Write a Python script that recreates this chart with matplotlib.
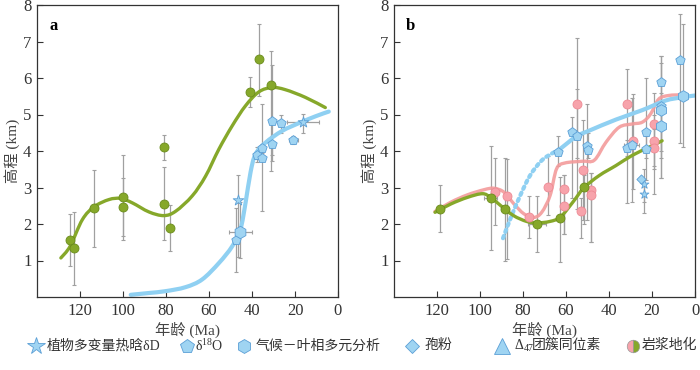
import numpy as np
import matplotlib.pyplot as plt
from matplotlib.lines import Line2D
from matplotlib.path import Path
from matplotlib.patches import PathPatch

plt.rcParams['font.family'] = ['Liberation Serif', 'Noto Sans CJK SC']
plt.rcParams['mathtext.fontset'] = 'custom'
plt.rcParams['mathtext.rm'] = 'Liberation Serif'
plt.rcParams['mathtext.it'] = 'Liberation Serif:italic'
plt.rcParams['axes.unicode_minus'] = False

GREEN = '#86a82a'
GREEN_EDGE = '#6a8c1c'
BLUE = '#9fd4f2'
BLUE_EDGE = '#5b9fd6'
BLUE_LINE = '#8fd0f2'
PINK = '#f7a3ab'
PINK_EDGE = '#ee8a94'
PINK_LINE = '#f39b9b'
ERR = '#a0a0a0'

# ---------------- panel a ----------------
a_mag_age = [124.6, 122.8, 113.5, 100.0, 100.0, 81.1, 81.1, 78.3, 40.7, 36.7, 31.1]
a_mag_elev = [1.56, 1.34, 2.44, 2.73, 2.47, 4.11, 2.56, 1.90, 5.62, 6.52, 5.81]
a_mag_hi = [2.27, 2.33, 3.49, 3.90, 3.25, 4.45, 3.56, 2.53, 6.04, 7.47, 6.75]
a_mag_lo = [0.85, 0.33, 1.37, 1.55, 1.67, 3.75, 1.56, 1.27, 5.20, 5.50, 3.45]
a_mag_xerr = [1.5, 1.5, 2.0, 1.5, 1.5, 0.0, 1.0, 0.0, 0.0, 0.0, 0.0]

a_o18_age = [47.5, 37.9, 35.4, 35.4, 30.5, 30.5, 26.5, 20.7]
a_o18_elev = [1.57, 3.89, 3.82, 4.07, 4.82, 4.18, 4.78, 4.30]
a_o18_hi = [2.45, 4.10, 5.30, 4.20, 6.35, 4.40, 5.00, 4.40]
a_o18_lo = [0.68, 3.70, 2.35, 3.95, 3.72, 3.90, 4.50, 4.20]
a_o18_xerr = [0.5, 1.5, 0.5, 0.5, 0.5, 0.5, 0.5, 2.3]

a_clamp_age = [45.4]
a_clamp_elev = [1.78]
a_clamp_hi = [2.60]
a_clamp_lo = [1.08]
a_clamp_xerr = [5.2]

a_star_age = [46.7, 16.3]
a_star_elev = [2.66, 4.79]
a_star_hi = [3.35, 5.02]
a_star_lo = [1.10, 4.50]
a_star_xerr = [0.5, 7.5]

a_green_x = [128.9, 124.6, 118.9, 113.5, 106.5, 101.1, 95.7, 87.9, 81.0, 75.5, 67.8,
             61.6, 55.4, 49.2, 43.0, 36.8, 30.7, 24.5, 15.2, 5.9]
a_green_y = [1.07, 1.39, 2.12, 2.47, 2.67, 2.70, 2.58, 2.33, 2.23, 2.35, 2.77,
             3.31, 4.05, 4.69, 5.24, 5.62, 5.74, 5.68, 5.47, 5.19]

a_blue_x = [96.4, 87.9, 80.2, 70.9, 63.2, 55.4, 49.2, 45.4, 43.0, 40.7, 38.4,
            33.7, 26.0, 18.3, 10.5, 4.3]
a_blue_y = [0.06, 0.11, 0.16, 0.27, 0.48, 0.93, 1.39, 1.85, 2.58, 3.41, 3.91,
            4.23, 4.55, 4.76, 4.95, 5.08]

# ---------------- panel b ----------------
b_mag_age = [118.6, 95.1, 88.4, 73.5, 62.6, 51.7]
b_mag_elev = [2.41, 2.71, 2.41, 2.00, 2.17, 3.01]
b_mag_hi = [3.06, 4.13, 3.80, 2.77, 3.30, 3.35]
b_mag_lo = [1.78, 1.28, 1.00, 1.24, 0.97, 2.00]
b_mag_xerr = [0.0, 3.0, 2.0, 4.0, 0.0, 0.0]

b_pink_age = [93.1, 87.4, 77.2, 68.4, 61.1, 61.1, 54.8, 52.9, 52.2, 48.2, 48.2,
              31.8, 28.7, 19.2, 19.2, 19.2]
b_pink_elev = [2.89, 2.76, 2.19, 3.02, 2.97, 2.49, 5.30, 2.36, 3.49, 2.94, 2.79,
               5.28, 4.27, 4.73, 4.27, 4.07]
b_pink_hi = [3.80, 3.77, 2.77, 3.85, 3.35, 3.35, 7.10, 2.70, 4.85, 3.40, 3.40,
             6.25, 5.55, 5.60, 5.00, 4.60]
b_pink_lo = [1.97, 1.05, 1.62, 2.25, 1.73, 1.73, 2.40, 1.63, 2.10, 1.50, 1.50,
             2.57, 2.97, 2.82, 3.50, 3.60]

b_o18_age = [63.7, 57.1, 54.8, 50.2, 49.6, 31.5, 29.5, 22.7, 22.7, 15.7, 15.7, 7.2]
b_o18_elev = [3.96, 4.51, 4.42, 4.13, 4.03, 4.08, 4.17, 4.52, 4.06, 5.90, 5.24, 6.49]
b_o18_hi = [4.40, 4.92, 5.70, 5.30, 4.50, 4.30, 5.45, 6.00, 4.40, 6.60, 6.40, 7.75]
b_o18_lo = [3.60, 2.70, 3.80, 2.10, 3.80, 3.85, 2.60, 3.20, 3.80, 3.25, 3.80, 4.22]
b_o18_xerr = [1.0, 1.5, 1.0, 1.0, 1.0, 0.5, 3.5, 0.5, 0.5, 0.5, 0.5, 0.5]

b_hex_age = [15.7, 15.7, 5.7]
b_hex_elev = [5.11, 4.69, 5.52]
b_hex_hi = [6.60, 5.60, 7.47]
b_hex_lo = [4.00, 3.25, 4.12]

b_star_age = [23.6, 23.6]
b_star_elev = [3.10, 2.82]
b_star_hi = [3.50, 3.20]
b_star_lo = [2.60, 2.30]

b_pollen_age = [25.0]
b_pollen_elev = [3.23]

b_green_x = [120.9, 113.5, 105.8, 98.9, 95.1, 90.5, 84.4, 78.3, 73.5, 67.5, 62.6,
             56.8, 51.7, 44.5, 36.8, 29.2, 21.5, 15.3]
b_green_y = [2.32, 2.55, 2.73, 2.83, 2.73, 2.51, 2.23, 2.07, 2.03, 2.07, 2.19,
             2.60, 2.99, 3.33, 3.60, 3.88, 4.10, 4.28]

b_pink_x = [121.0, 113.5, 105.8, 98.1, 93.5, 88.8, 84.2, 79.6, 75.0, 71.3, 67.4,
            64.4, 60.6, 52.2, 46.8, 41.4, 35.3, 29.2, 24.5, 20.7, 16.9, 12.3, 6.1]
b_pink_y = [2.34, 2.60, 2.80, 2.94, 2.98, 2.87, 2.55, 2.28, 2.18, 2.32, 2.78,
            3.51, 3.67, 3.72, 3.75, 4.24, 4.65, 4.74, 4.79, 5.01, 5.42, 5.52, 5.54]

b_blue_dot_x = [89.3, 85.9, 81.3, 76.7, 71.3, 66.0, 63.7]
b_blue_dot_y = [1.61, 2.14, 2.78, 3.33, 3.74, 3.95, 4.01]
b_blue_x = [63.7, 55.2, 49.1, 36.8, 24.5, 13.8, 6.1, 0.0]
b_blue_y = [4.01, 4.40, 4.56, 4.86, 5.12, 5.38, 5.47, 5.52]


def yerr(val, hi, lo):
    v = np.array(val)
    return [v - np.array(lo), np.array(hi) - v]


def errs(ax, x, y, hi, lo, xerr=None):
    ax.errorbar(x, y, yerr=yerr(y, hi, lo), xerr=xerr, fmt='none', ecolor=ERR,
                elinewidth=0.9, capsize=1.5, capthick=0.8, zorder=1)


def smooth(ax, x, y, **kw):
    # traced points joined by Bezier segments (Catmull-Rom style tangents)
    p = np.column_stack([x, y]).astype(float)
    ext = np.vstack([p[0], p, p[-1]])
    verts = [p[0]]
    codes = [Path.MOVETO]
    for i in range(len(p) - 1):
        p0, p1, p2, p3 = ext[i], ext[i + 1], ext[i + 2], ext[i + 3]
        verts += [p1 + (p2 - p0) / 6, p2 - (p3 - p1) / 6, p2]
        codes += [Path.CURVE4] * 3
    patch = PathPatch(Path(verts, codes), fill=False, capstyle='round', **kw)
    ax.add_patch(patch)


def style_axes(ax, letter):
    ax.set_xlim(140, 0)
    ax.set_ylim(0, 8)
    ax.set_xticks([120, 100, 80, 60, 40, 20, 0])
    ax.set_yticks([1, 2, 3, 4, 5, 6, 7, 8])
    ax.tick_params(direction='in', length=4, width=0.8, labelsize=12, colors='#333333', pad=4)
    for s in ax.spines.values():
        s.set_color('#333333')
        s.set_linewidth(0.9)
    ax.set_xlabel('年龄 (Ma)', fontsize=11, color='#444444', labelpad=2)
    ax.set_ylabel('高程 (km)', fontsize=11, color='#444444', labelpad=2)
    ax.text(0.04, 0.955, letter, transform=ax.transAxes, fontsize=12, fontweight='bold',
            va='top', ha='left')


fig = plt.figure(figsize=(7, 3.7), dpi=100)
ax1 = fig.add_axes([37 / 700, 1 - 297 / 370, 301 / 700, 292 / 370])
ax2 = fig.add_axes([394 / 700, 1 - 297 / 370, 301 / 700, 292 / 370])

# panel a
errs(ax1, a_mag_age, a_mag_elev, a_mag_hi, a_mag_lo, a_mag_xerr)
errs(ax1, a_o18_age, a_o18_elev, a_o18_hi, a_o18_lo, a_o18_xerr)
errs(ax1, a_clamp_age, a_clamp_elev, a_clamp_hi, a_clamp_lo, a_clamp_xerr)
errs(ax1, a_star_age, a_star_elev, a_star_hi, a_star_lo, a_star_xerr)
smooth(ax1, a_green_x, a_green_y, edgecolor=GREEN, lw=2.4, zorder=2)
smooth(ax1, a_blue_x, a_blue_y, edgecolor=BLUE_LINE, lw=3, zorder=2)
ax1.scatter(a_mag_age, a_mag_elev, s=42, c=GREEN, edgecolors=GREEN_EDGE, linewidths=0.6, zorder=3)
ax1.scatter(a_o18_age, a_o18_elev, s=50, marker='p', c=BLUE, edgecolors=BLUE_EDGE, linewidths=0.6, zorder=3)
ax1.scatter(a_clamp_age, a_clamp_elev, s=80, marker='h', c=BLUE, edgecolors=BLUE_EDGE, linewidths=0.6, zorder=3)
ax1.scatter(a_star_age, a_star_elev, s=65, marker='*', c=BLUE, edgecolors=BLUE_EDGE, linewidths=0.6, zorder=3)
style_axes(ax1, 'a')

# panel b
errs(ax2, b_mag_age, b_mag_elev, b_mag_hi, b_mag_lo, b_mag_xerr)
errs(ax2, b_pink_age, b_pink_elev, b_pink_hi, b_pink_lo, 0.8)
errs(ax2, b_o18_age, b_o18_elev, b_o18_hi, b_o18_lo, b_o18_xerr)
errs(ax2, b_hex_age, b_hex_elev, b_hex_hi, b_hex_lo)
errs(ax2, b_star_age, b_star_elev, b_star_hi, b_star_lo)
smooth(ax2, b_pink_x, b_pink_y, edgecolor=PINK_LINE, lw=2.4, alpha=0.9, zorder=2)
smooth(ax2, b_blue_x, b_blue_y, edgecolor=BLUE_LINE, lw=3, zorder=2)
smooth(ax2, b_blue_dot_x, b_blue_dot_y, edgecolor=BLUE_LINE, lw=3, ls=(0, (0.6, 1.0)), zorder=2)
smooth(ax2, b_green_x, b_green_y, edgecolor=GREEN, lw=2.4, zorder=2)
ax2.scatter(b_pink_age, b_pink_elev, s=42, c=PINK, edgecolors=PINK_EDGE, linewidths=0.6, zorder=3)
ax2.scatter(b_mag_age, b_mag_elev, s=42, c=GREEN, edgecolors=GREEN_EDGE, linewidths=0.6, zorder=4)
ax2.scatter(b_o18_age, b_o18_elev, s=50, marker='p', c=BLUE, edgecolors=BLUE_EDGE, linewidths=0.6, zorder=3)
ax2.scatter(b_hex_age, b_hex_elev, s=70, marker='h', c=BLUE, edgecolors=BLUE_EDGE, linewidths=0.6, zorder=3)
ax2.scatter(b_star_age, b_star_elev, s=45, marker='*', c=BLUE, edgecolors=BLUE_EDGE, linewidths=0.6, zorder=3)
ax2.scatter(b_pollen_age, b_pollen_elev, s=22, marker='D', c=BLUE, edgecolors=BLUE_EDGE, linewidths=0.6, zorder=3)
style_axes(ax2, 'b')

# legend row
leg = fig.add_axes([0, 0, 1, 0.12])
leg.set_xlim(0, 700)
leg.set_ylim(0, 44)
leg.axis('off')
legend_markers = ['*', 'p', 'h', 'D', '^', 'o']
legend_mx = [36, 187, 244, 412, 502, 633]
legend_sizes = [13, 10, 10, 7, 11, 9]
for mk, mx, ms in zip(legend_markers, legend_mx, legend_sizes):
    if mk == 'o':
        leg.add_line(Line2D([mx], [24], marker='o', ms=ms, fillstyle='left',
                            markerfacecolor=PINK, markerfacecoloralt=GREEN,
                            markeredgecolor='#999999', markeredgewidth=0.5, ls='none'))
    else:
        leg.add_line(Line2D([mx], [24], marker=mk, ms=ms, markerfacecolor=BLUE,
                            markeredgecolor=BLUE_EDGE, markeredgewidth=0.6, ls='none'))
LEG = dict(fontsize=10, va='center', ha='left', color='#333333')
leg.text(47, 24, '植物多变量热晗δD', **LEG)
leg.text(195, 24, 'δ$^{18}$O', **LEG)
leg.text(256, 24, '气候－叶相多元分析', **LEG)
leg.text(424, 24, '孢粉', **LEG)
leg.text(514, 24, 'Δ$_{47}$', **LEG)
leg.text(532, 24, '团簇同位素', **LEG)
leg.text(642, 24, '岩浆地化', **LEG)

fig.savefig('out.png', dpi=100)
